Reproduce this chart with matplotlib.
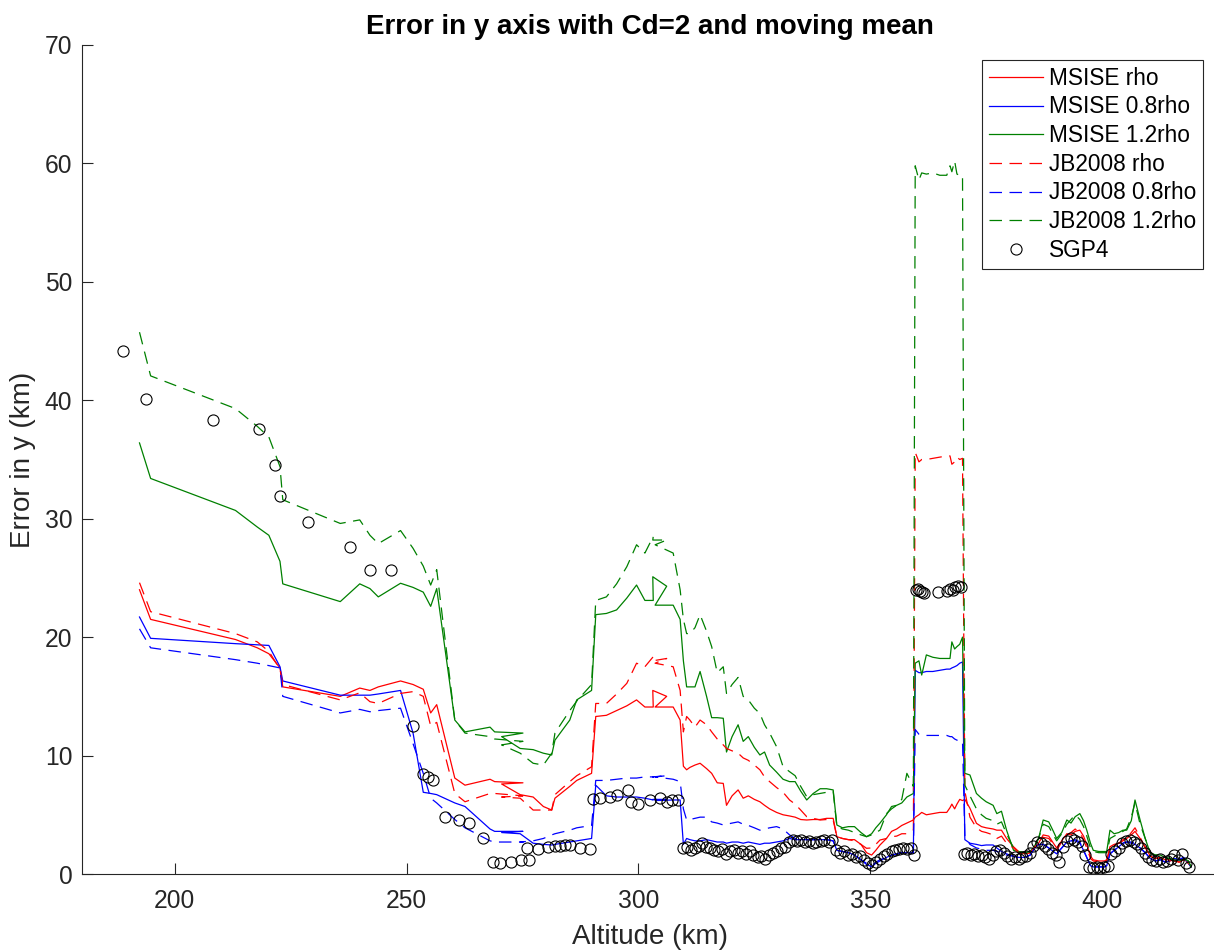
import matplotlib
matplotlib.use("Agg")
import matplotlib.pyplot as plt

# Altitude of each model sample (km). The orbit track doubles back a few times,
# so the sequence is not monotonic.
altitude = [
    192.4, 194.8, 213.1, 217.8, 220.3, 222.7, 223.3, 235.7, 239.9, 242.1, 243.9,
    248.7, 251.4, 253.6, 255.2, 256.5, 260.4, 262.6, 268.0, 269.0, 275.1, 270.5,
    274.5, 277.3, 279.5, 281.3, 282.0, 285.2, 286.7, 289.9, 290.8, 293.1, 295.3,
    297.5, 299.6, 301.4, 303.2, 303.1, 306.1, 303.6, 307.5, 309.0, 309.7, 310.4,
    311.1, 312.2, 313.3, 314.7, 315.8, 317.0, 318.3, 319.0, 320.2, 321.5, 322.6,
    323.7, 325.0, 326.2, 327.2, 328.3, 329.8, 331.2, 332.6, 333.8, 335.0, 336.3,
    337.7, 339.2, 340.6, 342.0, 342.8, 344.0, 345.3, 346.6, 348.0, 349.2, 350.3,
    351.2, 352.1, 353.5, 354.6, 355.7, 356.8, 357.9, 359.3,
    359.7, 360.5, 361.1, 362.1, 363.5, 365.0, 366.5, 367.2, 367.6, 368.2, 368.7,
    369.3, 369.9,
    370.4, 371.5, 372.9, 374.0, 375.0, 376.5, 377.3, 378.3, 379.4, 380.9, 382.0,
    383.3, 384.5, 385.5, 386.3, 387.3, 388.5, 389.5, 390.2, 391.3, 392.4, 393.3,
    394.2, 395.2, 396.0, 396.7, 397.5, 398.1, 399.3, 400.5, 401.0, 401.7, 402.6,
    403.6, 404.5, 405.3, 406.3, 407.1, 408.2, 409.3, 410.4, 411.5, 412.6, 413.6,
    414.6, 415.6, 416.6, 417.6, 418.6, 419.2,
]

msise_rho = [
    24.0, 21.5, 19.8, 19.1, 18.6, 17.4, 15.8, 15.0, 15.7, 15.5, 15.8,
    16.3, 16.0, 15.6, 13.6, 14.3, 8.1, 7.5, 8.0, 7.8, 7.7, 7.6,
    6.7, 6.5, 5.7, 5.4, 6.4, 7.4, 7.9, 8.5, 13.3, 13.4, 13.8,
    14.2, 14.7, 14.1, 14.1, 15.5, 15.0, 14.1, 14.1, 13.0, 9.1, 8.8,
    9.0, 9.2, 9.35, 8.9, 8.5, 7.7, 7.65, 5.8, 6.6, 7.1, 6.4,
    6.6, 6.3, 6.1, 5.8, 5.5, 5.2, 5.0, 4.9, 4.8, 4.6, 4.56,
    4.6, 4.6, 4.7, 4.7, 3.15, 3.0, 2.9, 2.9, 2.5, 1.8, 1.6,
    2.0, 2.45, 3.0, 3.6, 3.8, 4.1, 4.3, 4.56,
    4.8, 5.0, 5.2, 5.0, 5.1, 5.2, 5.2, 5.6, 5.9, 5.5, 5.9,
    6.3, 6.2,
    6.3, 5.55, 4.28, 4.0, 3.9, 3.8, 3.7, 3.7, 3.0, 2.3, 1.9,
    1.7, 1.8, 2.2, 2.6, 3.3, 3.2, 2.6, 2.2, 2.8, 3.4, 3.3,
    3.6, 3.7, 3.2, 2.5, 1.5, 1.2, 1.1, 1.1, 1.2, 2.3, 2.5,
    2.6, 2.9, 3.0, 3.3, 3.6, 3.0, 2.3, 1.5, 1.3, 1.4, 1.2,
    1.2, 1.1, 1.0, 1.2, 1.0, 0.6,
]

msise_08rho = [
    21.7, 19.9, 19.45, 19.35, 19.3, 17.5, 16.3, 15.1, 15.1, 15.1, 15.2,
    15.5, 11.9, 6.9, 6.8, 6.7, 6.0, 5.7, 3.8, 3.6, 3.6, 3.5,
    3.4, 2.6, 2.5, 2.45, 2.5, 2.7, 2.8, 3.0, 7.5, 6.6, 6.5,
    6.5, 6.5, 6.4, 6.25, 6.3, 6.3, 6.2, 6.25, 6.25, 2.5, 3.0,
    2.9, 2.8, 2.8, 2.9, 2.8, 2.7, 2.7, 2.6, 2.7, 2.7, 2.6,
    2.7, 2.6, 2.5, 2.6, 2.6, 2.7, 2.8, 3.0, 2.9, 2.9, 2.9,
    2.9, 2.9, 2.9, 2.8, 2.0, 1.9, 1.8, 1.6, 1.2, 0.8, 0.62,
    0.9, 1.1, 1.4, 1.6, 1.7, 1.8, 1.8, 1.75,
    17.2, 17.0, 17.0, 17.1, 17.1, 17.2, 17.3, 17.3, 17.4, 17.5, 17.6,
    17.8, 17.9,
    2.9, 2.6, 2.5, 2.4, 2.45, 2.45, 2.2, 1.9, 1.7, 1.5, 1.4,
    1.4, 1.6, 2.2, 2.5, 2.5, 2.2, 1.9, 1.7, 2.2, 2.7, 2.8,
    2.8, 2.6, 2.0, 1.4, 0.7, 0.6, 0.6, 0.6, 0.7, 1.7, 2.0,
    2.3, 2.6, 2.7, 2.6, 2.5, 2.2, 1.8, 1.3, 1.1, 1.2, 1.0,
    1.1, 1.3, 1.2, 1.4, 0.9, 0.6,
]

msise_12rho = [
    36.4, 33.4, 30.7, 29.3, 28.6, 26.4, 24.5, 23.0, 24.5, 24.1, 23.4,
    24.55, 24.2, 23.8, 22.6, 24.1, 13.0, 12.0, 12.4, 12.0, 11.9, 11.6,
    10.6, 10.5, 10.2, 10.05, 11.3, 13.0, 14.7, 15.5, 21.9, 22.0, 22.3,
    23.3, 24.4, 23.1, 23.1, 25.1, 24.3, 22.7, 22.7, 21.5, 18.0, 15.8,
    15.8, 15.8, 17.1, 15.0, 13.2, 13.2, 13.15, 10.3, 11.6, 12.6, 11.2,
    11.6, 10.7, 10.05, 10.3, 9.2, 8.6, 8.0, 7.8, 7.8, 7.0, 6.25,
    6.8, 7.2, 7.2, 7.1, 4.14, 3.9, 4.0, 4.0, 3.5, 3.15, 3.4,
    3.9, 4.3, 5.0, 5.7, 5.8, 6.0, 6.5, 6.8,
    17.8, 18.0, 16.8, 18.5, 18.3, 18.2, 18.2, 18.2, 19.6, 19.0, 19.2,
    19.4, 20.0,
    8.5, 8.36, 6.8, 6.4, 6.1, 5.8, 5.1, 5.3, 3.7, 2.0, 1.9,
    1.8, 1.9, 2.4, 3.0, 4.56, 4.4, 3.6, 3.0, 3.5, 4.56, 4.3,
    4.84, 5.1, 4.5, 3.7, 2.6, 2.0, 1.9, 1.9, 1.9, 3.7, 3.4,
    3.5, 3.7, 3.7, 4.5, 6.25, 4.56, 3.0, 1.75, 1.6, 1.6, 1.4,
    1.3, 1.2, 1.1, 1.3, 1.1, 0.6,
]

jb2008_rho = [
    24.6, 22.15, 20.3, 19.6, 18.8, 17.3, 16.0, 14.7, 15.3, 14.55, 14.4,
    15.25, 15.4, 15.0, 12.5, 12.8, 6.8, 6.1, 6.8, 6.8, 6.6, 6.5,
    6.4, 5.4, 5.4, 5.4, 6.7, 7.8, 8.3, 9.05, 14.4, 14.4, 15.2,
    16.1, 17.8, 17.5, 18.35, 18.0, 18.2, 17.8, 17.5, 15.5, 12.0, 13.3,
    13.0, 12.4, 13.0, 12.6, 12.0, 11.4, 10.9, 10.6, 10.4, 10.2, 9.8,
    9.6, 9.2, 8.8, 8.2, 7.8, 7.3, 6.9, 6.25, 5.9, 5.4, 4.84,
    4.7, 4.56, 4.6, 4.56, 3.15, 3.0, 2.9, 2.8, 2.5, 2.17, 2.2,
    2.5, 2.87, 3.0, 3.15, 3.2, 3.4, 3.4, 3.7,
    35.6, 34.8, 35.0, 35.0, 35.1, 35.2, 35.3, 35.3, 34.6, 34.8, 35.2,
    35.0, 35.1,
    7.0, 4.8, 3.9, 3.6, 3.5, 3.3, 3.0, 3.2, 2.6, 2.2, 1.8,
    1.6, 1.8, 2.3, 2.6, 3.1, 3.0, 2.5, 2.0, 2.7, 3.3, 3.5,
    3.8, 3.5, 2.9, 2.2, 1.3, 1.1, 1.0, 1.0, 1.1, 2.1, 2.4,
    2.6, 2.8, 3.0, 3.5, 3.9, 3.1, 2.2, 1.5, 1.3, 1.4, 1.2,
    1.1, 1.2, 1.0, 1.2, 0.9, 0.6,
]

jb2008_08rho = [
    20.7, 19.1, 18.1, 17.8, 17.6, 17.4, 15.0, 13.6, 13.9, 13.7, 13.8,
    14.0, 11.0, 8.5, 6.4, 6.0, 4.6, 3.9, 2.8, 2.7, 2.7, 2.7,
    2.7, 2.8, 3.0, 3.3, 3.4, 3.7, 3.9, 4.1, 7.9, 7.9, 8.0,
    8.1, 8.1, 8.2, 8.2, 8.2, 8.3, 8.2, 8.0, 7.8, 5.5, 4.56,
    4.6, 4.7, 4.8, 4.8, 4.4, 4.3, 4.14, 4.2, 4.3, 4.4, 4.2,
    4.1, 3.9, 3.7, 3.8, 3.9, 4.0, 3.8, 3.3, 3.0, 3.0, 2.9,
    2.9, 2.9, 2.9, 2.8, 2.0, 1.9, 1.8, 1.6, 1.2, 0.9, 0.7,
    1.0, 1.2, 1.4, 1.6, 1.7, 1.8, 1.8, 1.8,
    12.2, 11.8, 11.7, 11.7, 11.7, 11.7, 11.7, 11.6, 11.6, 11.4, 11.3,
    11.3, 11.2,
    3.2, 2.5, 2.2, 2.1, 2.0, 2.0, 1.9, 1.8, 1.6, 1.5, 1.4,
    1.4, 1.6, 2.2, 2.5, 2.5, 2.2, 1.9, 1.7, 2.2, 2.7, 2.8,
    2.9, 2.7, 2.0, 1.4, 0.7, 0.6, 0.6, 0.6, 0.7, 1.7, 2.0,
    2.3, 2.6, 2.7, 2.7, 2.6, 2.2, 1.8, 1.3, 1.1, 1.2, 1.0,
    1.1, 1.3, 1.2, 1.4, 0.9, 0.6,
]

jb2008_12rho = [
    45.75, 42.06, 39.3, 37.8, 36.9, 34.4, 31.6, 29.6, 29.9, 28.6, 27.9,
    29.0, 27.5, 26.0, 24.4, 25.7, 13.0, 11.9, 11.6, 11.4, 11.2, 10.9,
    10.2, 9.35, 9.2, 10.2, 11.9, 13.8, 14.6, 16.0, 23.1, 23.4, 24.5,
    25.95, 27.8, 27.1, 28.5, 28.2, 28.2, 27.8, 27.1, 24.0, 21.5, 20.3,
    20.3, 20.8, 21.9, 20.5, 19.2, 17.0, 17.5, 15.25, 16.0, 16.6, 15.0,
    14.7, 14.0, 13.55, 12.6, 11.9, 10.75, 9.06, 8.64, 8.3, 7.4, 6.53,
    6.7, 6.8, 6.9, 7.0, 4.0, 3.8, 3.7, 3.5, 3.3, 3.15, 3.3,
    3.5, 3.7, 5.1, 5.5, 5.8, 6.3, 8.5, 7.4,
    59.8, 58.6, 59.2, 59.1, 59.2, 59.0, 59.0, 59.8, 59.3, 60.2, 59.1,
    59.0, 59.0,
    7.5, 6.6, 5.5, 5.0, 4.7, 4.5, 4.2, 4.4, 3.4, 2.2, 1.9,
    1.8, 1.9, 2.4, 3.0, 4.2, 4.0, 3.3, 2.8, 3.4, 4.2, 4.6,
    5.0, 4.6, 4.0, 3.2, 2.2, 1.9, 1.8, 1.8, 1.8, 3.0, 3.2,
    3.4, 3.6, 3.8, 4.8, 6.0, 4.2, 3.0, 1.8, 1.6, 1.6, 1.4,
    1.3, 1.2, 1.1, 1.3, 1.1, 0.6,
]

# SGP4 propagation, sampled on its own altitude track
sgp4_alt = [
    188.9, 193.7, 208.3, 218.1, 221.6, 222.7, 228.8, 237.8, 242.1, 246.7,
    251.4, 253.6, 254.7, 255.7, 258.3, 261.2, 263.5, 266.4, 268.7, 270.1,
    272.6, 274.6, 276.3, 275.9, 278.4, 280.5, 282.0, 283.0, 284.1, 285.2,
    287.4, 289.5, 290.3, 291.7, 293.9, 295.3, 297.8, 298.5, 300.0, 302.5,
    304.6, 306.1, 307.2, 308.6, 309.7,
    310.5, 311.3, 312.1, 313.0, 313.8, 314.6, 315.5, 316.3, 317.2, 318.0,
    318.9, 319.7, 320.6, 321.4, 322.3, 323.1, 324.0, 324.8, 325.7, 326.5,
    327.4, 328.2, 329.1, 329.9, 330.8, 331.6, 332.5, 333.3, 334.2, 335.0,
    335.9, 336.7, 337.6, 338.4, 339.3, 340.1, 341.0, 341.8, 342.7, 343.5,
    344.4, 345.2, 346.1, 346.9, 347.8, 348.6, 349.5, 350.3, 351.2, 352.0,
    352.9, 353.7, 354.6, 355.4, 356.3, 357.1, 358.0, 358.8, 359.4,
    359.9, 360.3, 360.7, 361.2, 361.6, 364.6, 366.5, 367.2, 367.8, 368.3,
    368.9, 369.5,
    370.2, 370.9, 371.7, 372.4, 373.2, 374.0, 374.8, 375.6, 376.4, 377.2,
    378.0, 378.8, 379.6, 380.4, 381.2, 382.0, 382.8, 383.6, 384.4, 385.2,
    386.0, 386.8, 387.6, 388.4, 389.2, 390.0, 390.8, 391.6, 392.4, 393.2,
    394.0, 394.8, 395.6, 396.4, 397.2, 398.0, 398.8, 399.6, 400.4, 401.2,
    402.0, 402.8, 403.6, 404.4, 405.2, 406.0, 406.8, 407.6, 408.4, 409.2,
    410.0, 410.8, 411.6, 412.4, 413.2, 414.0, 414.8, 415.6, 416.4, 417.2,
    418.0, 418.8,
]

sgp4_err = [
    44.2, 40.1, 38.3, 37.6, 34.5, 31.9, 29.7, 27.6, 25.7, 25.7,
    12.5, 8.45, 8.2, 7.9, 4.8, 4.6, 4.3, 3.0, 0.98, 0.95,
    0.98, 1.2, 1.2, 2.17, 2.08, 2.3, 2.36, 2.36, 2.45, 2.45,
    2.2, 2.1, 6.3, 6.4, 6.5, 6.7, 7.1, 6.1, 5.9, 6.25,
    6.4, 6.1, 6.25, 6.25, 2.17,
    2.3, 2.0, 2.2, 2.4, 2.6, 2.3, 2.2, 2.0, 1.9, 2.1,
    1.7, 1.9, 2.0, 1.8, 1.9, 1.7, 1.9, 1.6, 1.4, 1.5,
    1.3, 1.6, 1.8, 1.9, 2.2, 2.3, 2.7, 2.9, 2.8, 2.9,
    2.7, 2.8, 2.6, 2.7, 2.8, 2.9, 2.7, 2.9, 2.0, 1.8,
    1.9, 1.6, 1.7, 1.4, 1.5, 1.2, 0.9, 0.8, 1.0, 1.3,
    1.5, 1.7, 1.9, 2.0, 2.1, 2.2, 2.1, 2.2, 1.6,
    24.0, 24.1, 23.9, 23.8, 23.7, 23.8, 23.9, 24.1, 24.0, 24.2,
    24.3, 24.2,
    1.7, 1.8, 1.6, 1.7, 1.5, 1.6, 1.4, 1.3, 1.6, 1.9,
    2.0, 1.8, 1.5, 1.3, 1.4, 1.3, 1.4, 1.5, 1.8, 2.4,
    2.7, 2.6, 2.4, 2.1, 1.8, 1.6, 1.0, 2.3, 2.8, 3.0,
    2.9, 2.7, 2.4, 1.6, 0.6, 0.5, 0.6, 0.5, 0.6, 0.7,
    1.7, 1.9, 2.2, 2.6, 2.8, 2.9, 2.7, 2.5, 2.2, 1.8,
    1.4, 1.2, 1.1, 1.3, 1.0, 1.1, 1.3, 1.6, 1.2, 1.7,
    0.9, 0.6,
]

for series in (msise_rho, msise_08rho, msise_12rho, jb2008_rho, jb2008_08rho, jb2008_12rho):
    assert len(series) == len(altitude), len(series)
assert len(sgp4_alt) == len(sgp4_err)

plt.rcParams["font.family"] = ["Liberation Sans", "DejaVu Sans"]

W, H = 1214, 951
fig = plt.figure(figsize=(W / 100, H / 100), dpi=100)
ax = fig.add_axes([82 / W, (H - 874) / H, 1136 / W, (874 - 45) / H])

dark_green = (0, 0.5, 0)
dash = (0, (10, 6))
lw = 0.9

ax.plot(altitude, msise_rho, color="r", lw=lw, label="MSISE rho")
ax.plot(altitude, msise_08rho, color="b", lw=lw, label="MSISE 0.8rho")
ax.plot(altitude, msise_12rho, color=dark_green, lw=lw, label="MSISE 1.2rho")
ax.plot(altitude, jb2008_rho, color="r", lw=lw, ls=dash, label="JB2008 rho")
ax.plot(altitude, jb2008_08rho, color="b", lw=lw, ls=dash, label="JB2008 0.8rho")
ax.plot(altitude, jb2008_12rho, color=dark_green, lw=lw, ls=dash, label="JB2008 1.2rho")
ax.plot(sgp4_alt, sgp4_err, "o", mfc="none", mec="k", ms=8, mew=0.8, label="SGP4")

ax.set_xlim(180, 425)
ax.set_ylim(0, 70)
ax.set_xticks(range(200, 401, 50))
ax.set_yticks(range(0, 71, 10))

ink = (0.15, 0.15, 0.15)
for side in ("top", "right"):
    ax.spines[side].set_visible(False)
for side in ("left", "bottom"):
    ax.spines[side].set_color(ink)
    ax.spines[side].set_linewidth(0.8)
ax.tick_params(direction="in", length=8.2, width=0.8, colors=ink,
               labelsize=17.7, pad=7)
ax.tick_params(axis="x", pad=11)

ax.set_title("Error in y axis with Cd=2 and moving mean", fontsize=20,
             fontweight="bold", pad=8)
ax.set_xlabel("Altitude (km)", fontsize=20, color=ink, labelpad=8)
ax.set_ylabel("Error in y (km)", fontsize=20, color=ink, labelpad=6)

leg = ax.legend(loc="upper right", bbox_to_anchor=(1202.7 / W, 1 - 60 / H),
                bbox_transform=fig.transFigure, fontsize=16.3, frameon=True,
                fancybox=False, edgecolor=ink, framealpha=1,
                handlelength=2.4, handletextpad=0.25, labelspacing=0.25,
                borderpad=0.3, borderaxespad=0)
leg.get_frame().set_linewidth(0.8)

fig.savefig("out.png", dpi=100)
